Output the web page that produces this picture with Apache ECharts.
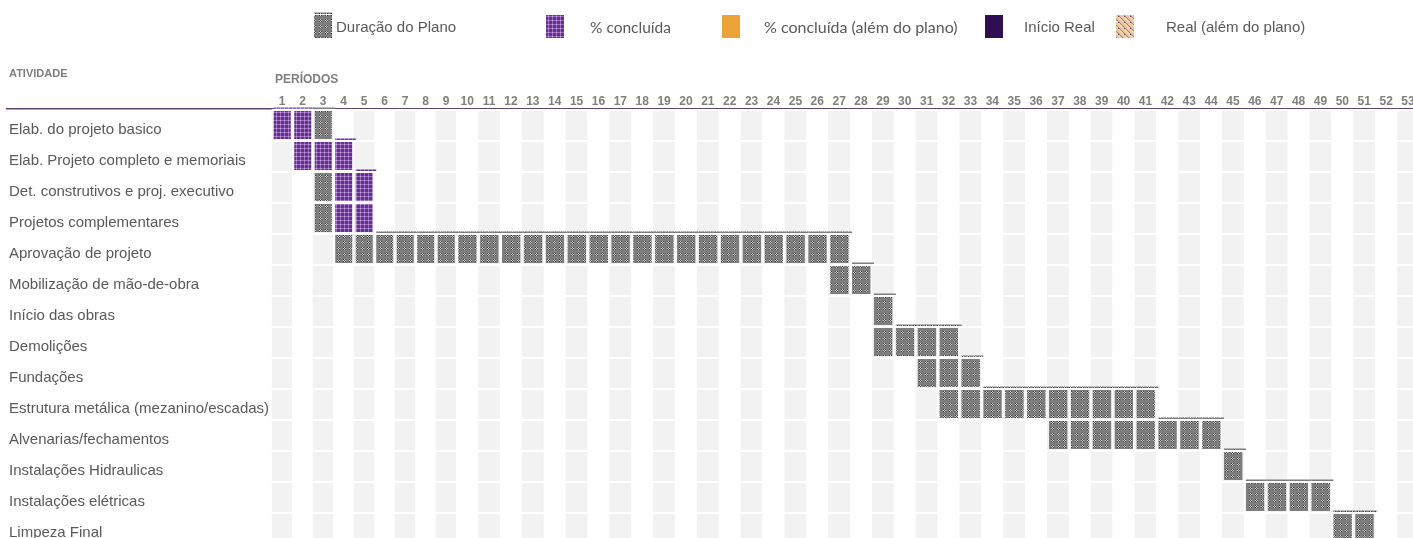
<!DOCTYPE html>
<html>
<head>
<meta charset="utf-8">
<script src="https://cdn.jsdelivr.net/npm/echarts@6/dist/echarts.min.js"></script>
<style>
  html, body { margin: 0; padding: 0; background: #fff; }
  #chart { width: 1413px; height: 538px; }
</style>
</head>
<body>
<div id="chart"></div>
<script>
// atividades (linhas do cronograma)
var atividades = [
    'Elab. do projeto basico',
    'Elab. Projeto completo e memoriais',
    'Det. construtivos e proj. executivo',
    'Projetos complementares',
    'Aprovação de projeto',
    'Mobilização de mão-de-obra',
    'Início das obras',
    'Demolições',
    'Fundações',
    'Estrutura metálica (mezanino/escadas)',
    'Alvenarias/fechamentos',
    'Instalações Hidraulicas',
    'Instalações elétricas',
    'Limpeza Final'
]

// periodos do cabeçalho
var periodos = ['1','2','3','4','5','6','7','8','9','10','11','12','13','14','15','16','17','18',
    '19','20','21','22','23','24','25','26','27','28','29','30','31','32','33','34','35','36',
    '37','38','39','40','41','42','43','44','45','46','47','48','49','50','51','52','53']

var inicioPlano = [1, 2, 3, 3, 4, 27, 29, 29, 31, 32, 37, 45, 46, 50]
var fimPlano    = [3, 4, 5, 5, 27, 28, 29, 32, 33, 41, 44, 45, 49, 51]

// parte concluida (% concluída)
var inicioConcluido = [1, 2, 4, 4, null, null, null, null, null, null, null, null, null, null]
var fimConcluido    = [2, 4, 5, 5, null, null, null, null, null, null, null, null, null, null]

var legendaItens = ['Duração do Plano', '% concluída', '% concluída (além do plano)', 'Início Real', 'Real (além do plano)']

var chart = echarts.init(document.getElementById('chart'))

function makePattern(size, base, draw) {
    var c = document.createElement('canvas')
    c.width = size
    c.height = size
    var ctx = c.getContext('2d')
    ctx.fillStyle = base
    ctx.fillRect(0, 0, size, size)
    draw(ctx)
    return { image: c, repeat: 'repeat' }
}

function px(ctx, color, x, y) {
    ctx.fillStyle = color
    ctx.fillRect(x, y, 1, 1)
}

var patCinza = makePattern(6, '#7d7d7d', function (ctx) {
    for (var i = 0; i < 3; i++) {
        for (var j = 0; j < 3; j++) {
            px(ctx, (i + j) % 2 ? '#d4d4d4' : '#404040', 1 + i, 1 + j)
        }
    }
})

var patRoxo = makePattern(4, '#6e2f9c', function (ctx) {
    ctx.fillStyle = '#9c6cc2'
    ctx.fillRect(0, 0, 4, 1)
    ctx.fillRect(0, 0, 1, 4)
    px(ctx, '#c6a6e0', 0, 0)
    px(ctx, '#552079', 2, 2)
})

var patReal = makePattern(6, '#e8c8a0', function (ctx) {
    for (var i = 0; i < 6; i++) {
        px(ctx, '#b4805c', i, (i + 1) % 6)
        px(ctx, '#f4dcc0', i, (i + 3) % 6)
    }
    px(ctx, '#6a3a78', 2, 4)
})

var padroes = [patCinza, patRoxo]

// celulas preenchidas
var preenchido = {}
for (var r = 0; r < atividades.length; r++) {
    for (var p = inicioPlano[r]; p <= fimPlano[r]; p++) preenchido[r + '_' + p] = true
}

var dadosA = [], dadosB = []
for (var r = 0; r < atividades.length; r++) {
    for (var p = inicioPlano[r]; p <= fimPlano[r]; p++) {
        var tipo = (inicioConcluido[r] != null && p >= inicioConcluido[r] && p <= fimConcluido[r]) ? 1 : 0
        var linha = (r === 0 || !preenchido[(r - 1) + '_' + p]) ? 1 : 0
        if (p <= 9) dadosA.push([p - 1, r, tipo, linha])
        else dadosB.push([p - 10, r, tipo, linha])
    }
}

function renderCelula(params, api) {
    var c = api.coord([api.value(0), api.value(1)])
    var s = api.size([1, 1])
    var w = s[0], h = s[1]
    var x0 = c[0] - w / 2, y0 = c[1] - h / 2
    var fill = padroes[api.value(2)]
    var children = [{
        type: 'rect',
        shape: { x: x0 + 2, y: y0 + 1, width: w - 3.5, height: h - 3 },
        style: { fill: fill }
    }]
    if (api.value(3)) {
        children.push({
            type: 'rect',
            shape: { x: x0 + 2, y: y0 - 2.5, width: w, height: 1.5 },
            style: { fill: fill }
        })
    }
    return { type: 'group', children: children }
}

var fonte = '"Liberation Sans", Arial, sans-serif'

function eixoX(idx, dados, cores) {
    return {
        gridIndex: idx,
        type: 'category',
        position: 'top',
        data: dados,
        z: 0,
        axisLine: { show: false },
        axisTick: { show: false },
        axisLabel: {
            interval: 0,
            margin: 2,
            fontFamily: fonte,
            fontWeight: 'bold',
            fontSize: 12,
            color: '#7f7f7f'
        },
        splitLine: { show: false },
        splitArea: { show: true, interval: 0, areaStyle: { color: cores } }
    }
}

function eixoY(idx) {
    return {
        gridIndex: idx,
        type: 'category',
        inverse: true,
        data: atividades,
        z: 1,
        axisLine: { show: false },
        axisTick: { show: false },
        axisLabel: { show: false },
        splitLine: { show: true, interval: 0, lineStyle: { color: '#ffffff', width: 2 } }
    }
}

// legenda desenhada a mao (espacamento irregular como no original)
var legX = [[314, 336], [546, 590], [722, 764], [985, 1024], [1116, 1166]]
var legFill = [patCinza, patRoxo, '#eaa43a', '#2f0f52', patReal]
var legFont = [fonte, '"Lato", sans-serif', '"Lato", sans-serif', fonte, fonte]
var legSize = [15, 15.5, 16, 15, 15]
var graficos = [
    { type: 'line', shape: { x1: 6, y1: 108.75, x2: 1413, y2: 108.75 }, style: { stroke: '#5e4570', lineWidth: 1.5 } },
    { type: 'text', x: 9, y: 74, style: { text: 'ATIVIDADE', font: 'bold 11px ' + fonte, fill: '#7f7f7f', verticalAlign: 'middle' } },
    { type: 'text', x: 275, y: 80, style: { text: 'PERÍODOS', font: 'bold 12px ' + fonte, fill: '#7f7f7f', verticalAlign: 'middle' } },
    { type: 'rect', shape: { x: 314, y: 12.5, width: 18, height: 1.5 }, style: { fill: patCinza } }
]
legendaItens.forEach(function (nome, i) {
    graficos.push({ type: 'rect', shape: { x: legX[i][0], y: 15, width: 18, height: 23 }, style: { fill: legFill[i] } })
    graficos.push({ type: 'text', x: legX[i][1], y: 27.5, style: { text: nome, font: legSize[i] + 'px ' + legFont[i], fill: '#595959', verticalAlign: 'middle' } })
})

var option = {
    backgroundColor: '#ffffff',
    animation: false,
    grid: [
        { left: 271.75, top: 110, width: 184.5, height: 434, outerBoundsMode: 'none' },
        { left: 456.25, top: 110, width: 962.7, height: 434, outerBoundsMode: 'none' },
        // grade so para os rotulos das atividades (texto alinhado mais abaixo, como no Excel)
        { left: 271.75, top: 114, width: 184.5, height: 434, outerBoundsMode: 'none' }
    ],
    xAxis: [
        eixoX(0, periodos.slice(0, 9), ['#f2f2f2', '#ffffff']),
        eixoX(1, periodos.slice(9), ['#ffffff', '#f2f2f2']),
        { gridIndex: 2, type: 'category', data: periodos.slice(0, 9), show: false }
    ],
    yAxis: [
        eixoY(0),
        eixoY(1),
        {
            gridIndex: 2,
            type: 'category',
            inverse: true,
            data: atividades,
            axisLine: { show: false },
            axisTick: { show: false },
            splitLine: { show: false },
            axisLabel: {
                interval: 0,
                align: 'left',
                margin: 262.75,
                fontFamily: fonte,
                fontSize: 15,
                color: '#595959'
            }
        }
    ],
    graphic: { elements: graficos },
    series: [
        { type: 'custom', name: 'Duração do Plano', xAxisIndex: 0, yAxisIndex: 0, renderItem: renderCelula, data: dadosA, clip: false },
        { type: 'custom', name: 'Duração do Plano', xAxisIndex: 1, yAxisIndex: 1, renderItem: renderCelula, data: dadosB, clip: false }
    ]
}

chart.setOption(option)
</script>
</body>
</html>
